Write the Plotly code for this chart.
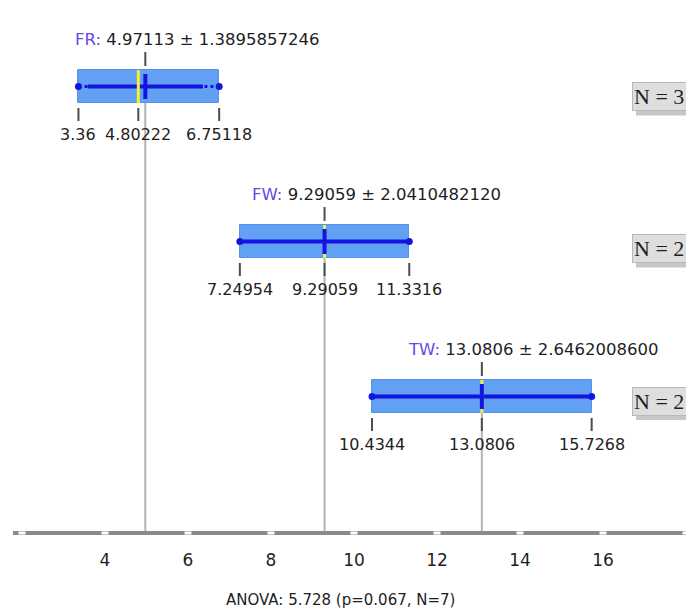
import plotly.graph_objects as go

# ---- data ----
groups = ["FR", "FW", "TW"]
n_obs = [3, 2, 2]
mins = [3.36, 7.24954, 10.4344]
medians = [4.80222, 9.29059, 13.0806]
maxs = [6.75118, 11.3316, 15.7268]
means = [4.97113, 9.29059, 13.0806]
sds = [1.3895857246, 2.0410482120, 2.6462008600]
tick_vals = [2, 4, 6, 8, 10, 12, 14, 16, 18]
tick_text = ["", "4", "6", "8", "10", "12", "14", "16", ""]
anova_text = "ANOVA: 5.728 (p=0.067, N=7)"

# ---- layout constants ----
W, H = 686, 616
PLOT_BOTTOM = 531
ROW0, ROWSTEP = 86.5, 155.0
Y_TOP = -ROW0 / ROWSTEP
Y_BOT = (PLOT_BOTTOM - ROW0) / ROWSTEP
BOX_H = 33 / ROWSTEP
MEAN_H = 25 / ROWSTEP
XL = 13
X_RANGE = [1.783, 18.0]

BOX_FILL = "#62a0f4"
BLUE = "#1414e0"
YELLOW = "#f2f230"
GRAY = "#b3b3b3"
DARK = "#4d4d4d"
TXT = "#1e1e1e"
LBL = "#6a48e6"
FONT = "DejaVu Sans"

idx = list(range(len(groups)))
fig = go.Figure()

# boxes (min..max)
fig.add_trace(go.Bar(
    orientation="h", y=idx, base=mins,
    x=[b - a for a, b in zip(mins, maxs)],
    width=BOX_H, marker=dict(color=BOX_FILL, line=dict(color="#5592e8", width=1)),
    hoverinfo="skip", showlegend=False))

def segs(pairs):
    xs, ys = [], []
    for (x0, y0, x1, y1) in pairs:
        xs += [x0, x1, None]
        ys += [y0, y1, None]
    return xs, ys

# dotted extension min..max
xs, ys = segs([(mins[i], i, maxs[i], i) for i in idx])
fig.add_trace(go.Scatter(x=xs, y=ys, mode="lines",
                         line=dict(color=BLUE, width=3, dash="dot"),
                         hoverinfo="skip", showlegend=False))
# mean +- sd
xs, ys = segs([(means[i] - sds[i], i, means[i] + sds[i], i) for i in idx])
fig.add_trace(go.Scatter(x=xs, y=ys, mode="lines",
                         line=dict(color=BLUE, width=4),
                         hoverinfo="skip", showlegend=False))
# min/max dots
fig.add_trace(go.Scatter(x=mins + maxs, y=idx + idx, mode="markers",
                         marker=dict(color=BLUE, size=7),
                         hoverinfo="skip", showlegend=False))
# median (yellow)
xs, ys = segs([(medians[i], i - BOX_H / 2, medians[i], i + BOX_H / 2) for i in idx])
fig.add_trace(go.Scatter(x=xs, y=ys, mode="lines",
                         line=dict(color=YELLOW, width=3),
                         hoverinfo="skip", showlegend=False))
# mean tick (blue)
xs, ys = segs([(means[i], i - MEAN_H / 2, means[i], i + MEAN_H / 2) for i in idx])
fig.add_trace(go.Scatter(x=xs, y=ys, mode="lines",
                         line=dict(color=BLUE, width=4),
                         hoverinfo="skip", showlegend=False))
# dark ticks: above box at mean, below box at min/median/max
pairs = []
for i in idx:
    pairs.append((means[i], i - 34.5 / ROWSTEP, means[i], i - 20.5 / ROWSTEP))
    for v in (mins[i], medians[i], maxs[i]):
        pairs.append((v, i + 21.5 / ROWSTEP, v, i + 34.5 / ROWSTEP))
xs, ys = segs(pairs)
fig.add_trace(go.Scatter(x=xs, y=ys, mode="lines",
                         line=dict(color=DARK, width=2),
                         hoverinfo="skip", showlegend=False))

shapes = []
# gray line from mean down to axis
for i in idx:
    shapes.append(dict(type="line", xref="x", yref="y", layer="below",
                       x0=means[i], x1=means[i], y0=i, y1=Y_BOT,
                       line=dict(color=GRAY, width=2)))
# white notches on the axis bar at tick positions
for v in tick_vals:
    shapes.append(dict(type="rect", xref="x", yref="paper", layer="above",
                       xsizemode="pixel", ysizemode="pixel",
                       xanchor=v, yanchor=0, x0=-3.5, x1=3.5, y0=-3.5, y1=-0.5,
                       fillcolor="white", line=dict(width=0)))

annotations = []
for i in idx:
    # title
    annotations.append(dict(
        x=means[i], y=i, xref="x", yref="y", xanchor="center", yanchor="middle",
        xshift=52, yshift=47.5, showarrow=False,
        text=f"<span style='color:{LBL}'>{groups[i]}:</span> {means[i]:.6g} \u00b1 {sds[i]:.10f}",
        font=dict(family=FONT, size=16.5, color=TXT)))
    # value labels
    for v in (mins[i], medians[i], maxs[i]):
        annotations.append(dict(
            x=v, y=i, xref="x", yref="y", xanchor="center", yanchor="middle",
            yshift=-47.5, showarrow=False, text=f"{v:.6g}",
            font=dict(family=FONT, size=16, color=TXT)))

# N boxes at the right (with drop shadow)
n_shift = [10, 7, 4.5]
for i in idx:
    shapes.append(dict(type="rect", xref="paper", yref="y", layer="below",
                       xsizemode="pixel", ysizemode="pixel",
                       xanchor=632 / W, yanchor=i,
                       x0=4, x1=90,
                       y0=-n_shift[i] - 19, y1=-n_shift[i] + 10,
                       fillcolor="rgba(0,0,0,0.22)", line=dict(width=0)))
    annotations.append(dict(x=632 / W, y=i, xref="paper", yref="y", xanchor="left",
                            yanchor="middle", showarrow=False, borderpad=1,
                            yshift=-n_shift[i],
                            text=f"N = {n_obs[i]}&nbsp;&nbsp;&nbsp;",
                            bgcolor="#dedede", bordercolor="#b8b8b8", borderwidth=1,
                            font=dict(family="Liberation Serif", size=22, color=TXT)))

annotations.append(dict(x=340.5 / W, y=0, xref="paper", yref="paper",
                        xanchor="center", yanchor="middle", yshift=-69,
                        showarrow=False, text=anova_text,
                        font=dict(family=FONT, size=15, color=TXT)))

fig.update_layout(
    width=W, height=H, margin=dict(l=0, r=0, t=0, b=H - PLOT_BOTTOM),
    paper_bgcolor="white", plot_bgcolor="white",
    showlegend=False, bargap=0,
    shapes=shapes, annotations=annotations,
    xaxis=dict(domain=[XL / W, 1], range=X_RANGE, showgrid=False, zeroline=False,
               showline=True, linecolor="#8a8a8a", linewidth=4,
               ticks="", tickvals=tick_vals, ticktext=tick_text,
               ticklabelstandoff=11,
               tickfont=dict(family=FONT, size=17, color=TXT), fixedrange=True),
    yaxis=dict(range=[Y_BOT, Y_TOP], visible=False, fixedrange=True),
)

fig.write_html("out.html")
